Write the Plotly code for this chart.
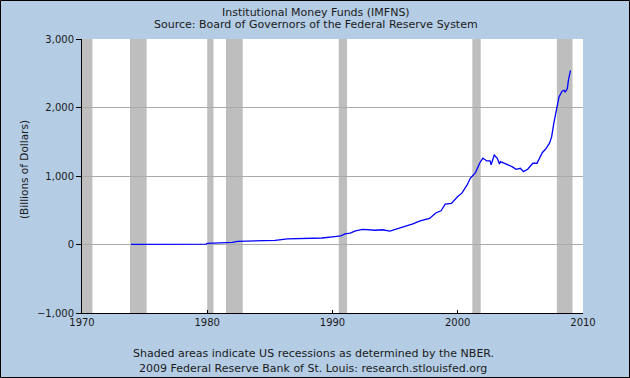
import plotly.graph_objects as go

# ---- data ----
dates = ["1973-12", "1976-01", "1978-01", "1979-12", "1980-01", "1981-06", "1982-01", "1982-06",
         "1984-06", "1984-09", "1985-06", "1986-06", "1987-06", "1988-06", "1989-03", "1990-01",
         "1990-09", "1991-01", "1991-06", "1991-11", "1992-06", "1993-06", "1994-01", "1994-08",
         "1995-06", "1996-06", "1997-01", "1997-10", "1998-04", "1998-09", "1999-01", "1999-07",
         "2000-01", "2000-05", "2000-10", "2001-01", "2001-06", "2001-10", "2002-01", "2002-05",
         "2002-08", "2002-09", "2002-12", "2003-03", "2003-05", "2003-06", "2003-11", "2004-05",
         "2004-09", "2005-01", "2005-04", "2005-08", "2006-01", "2006-05", "2006-10", "2007-01",
         "2007-05", "2007-07", "2007-09", "2007-11", "2008-01", "2008-02", "2008-05", "2008-07",
         "2008-08", "2008-10", "2008-11", "2009-01"]
values = [1, 2, 3, 5, 15, 20, 30, 45,
          50, 58, 60, 83, 85, 90, 95, 112,
          125, 155, 165, 200, 222, 208, 215, 195,
          240, 300, 345, 380, 460, 492, 590, 600,
          700, 750, 870, 966, 1050, 1186, 1259, 1220,
          1220, 1165, 1307, 1259, 1175, 1210, 1176, 1137,
          1098, 1113, 1064, 1098, 1186, 1186, 1340, 1390,
          1480, 1570, 1766, 1912, 2032, 2154, 2237, 2252,
          2223, 2277, 2397, 2543]

recession_starts = ["1970-01-01", "1973-11-01", "1980-01-01", "1981-07-01", "1990-07-01", "2001-03-01", "2007-12-01"]
recession_ends = ["1970-11-01", "1975-03-01", "1980-07-01", "1982-11-01", "1991-03-01", "2001-11-01", "2009-03-01"]

x_ticks = ["1970-01-01", "1980-01-01", "1990-01-01", "2000-01-01", "2010-01-01"]
x_tick_labels = ["1970", "1980", "1990", "2000", "2010"]
y_ticks = [-1000, 0, 1000, 2000, 3000]

title_lines = ["Institutional Money Funds (IMFNS)", "Source: Board of Governors of the Federal Reserve System"]
footer_lines = ["Shaded areas indicate US recessions as determined by the NBER.",
                "2009 Federal Reserve Bank of St. Louis: research.stlouisfed.org"]
y_title = "(Billions of Dollars)"

# ---- layout geometry ----
W, H = 630, 378
L, R, T, B = 82, 47, 39, 65
PW, PH = W - L - R, H - T - B
BG = "#B4CDE5"
FONT = "DejaVu Sans"
TXT = "#1a1a1a"

def px(xp):
    return (xp - L) / PW

def py(yp):
    return (H - B - yp) / PH

fig = go.Figure()
fig.add_trace(go.Scatter(x=dates, y=values, mode="lines",
                         line=dict(color="#0000FF", width=1.3),
                         hoverinfo="x+y", showlegend=False))

shapes = []
for s, e in zip(recession_starts, recession_ends):
    shapes.append(dict(type="rect", xref="x", yref="paper", x0=s, x1=e, y0=0, y1=1,
                       fillcolor="#BEBEBE", line=dict(width=0), layer="between"))
# outer border of the image
shapes.append(dict(type="rect", xref="paper", yref="paper",
                   x0=px(0.5), x1=px(W - 0.5), y0=py(H - 0.5), y1=py(0.5),
                   line=dict(color="#000000", width=1), fillcolor="rgba(0,0,0,0)", layer="above"))

annotations = []
for i, t in enumerate(title_lines):
    annotations.append(dict(text=t, xref="paper", yref="paper", x=px(316), y=py(12 + i * 13),
                            showarrow=False, xanchor="center", yanchor="middle",
                            font=dict(family=FONT, size=11, color=TXT)))
for i, t in enumerate(footer_lines):
    annotations.append(dict(text=t, xref="paper", yref="paper", x=px(313), y=py(353 + i * 15),
                            showarrow=False, xanchor="center", yanchor="middle",
                            font=dict(family=FONT, size=11, color=TXT)))
annotations.append(dict(text=y_title, xref="paper", yref="paper", x=px(24), y=py(170),
                        showarrow=False, textangle=-90, xanchor="center", yanchor="middle",
                        font=dict(family=FONT, size=10.5, color=TXT)))

fig.update_layout(
    width=W, height=H,
    margin=dict(l=L, r=R, t=T, b=B, pad=0),
    paper_bgcolor=BG, plot_bgcolor="#FFFFFF",
    shapes=shapes, annotations=annotations,
    font=dict(family=FONT, size=10, color=TXT),
    xaxis=dict(type="date", range=["1970-01-01", "2010-01-01"],
               tickmode="array", tickvals=x_ticks, ticktext=x_tick_labels,
               ticks="inside", ticklen=3, tickcolor="#000000",
               showline=True, linecolor="#000000", linewidth=1,
               showgrid=False, zeroline=False, fixedrange=True,
               tickfont=dict(family=FONT, size=10, color=TXT)),
    yaxis=dict(range=[-1000, 3000], tickmode="array", tickvals=y_ticks,
               tickformat=",", ticks="outside", ticklen=5, tickcolor="#000000",
               showline=True, linecolor="#000000", linewidth=1,
               showgrid=True, gridcolor="#AAAAAA", gridwidth=1,
               zeroline=False, fixedrange=True,
               tickfont=dict(family=FONT, size=10, color=TXT)),
)

fig.write_html("out.html", config={"displayModeBar": False},
               post_script="document.body.style.margin='0';document.body.style.overflow='hidden';")
